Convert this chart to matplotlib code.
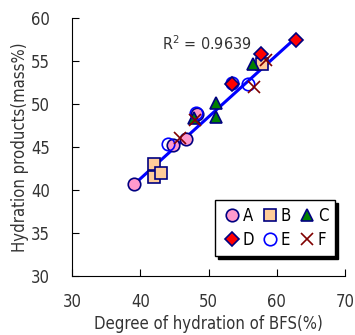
import matplotlib
matplotlib.use("Agg")
from matplotlib import pyplot as plt

# data (degree of hydration, hydration products)
a_x = [39.1, 44.8, 46.7, 48.3]
a_y = [40.7, 45.2, 45.9, 48.8]
b_x = [42.0, 42.0, 43.0, 57.8]
b_y = [43.0, 41.5, 42.0, 54.7]
c_x = [56.5, 51.1, 51.1, 47.9]
c_y = [54.7, 50.1, 48.5, 48.4]
d_x = [62.8, 57.7, 53.5]
d_y = [57.5, 55.8, 52.3]
e_x = [53.4, 55.8, 48.2, 44.1]
e_y = [52.5, 52.3, 48.9, 45.3]
f_x = [56.7, 58.4, 48.0, 45.8]
f_y = [52.0, 55.1, 48.1, 46.0]
fit_x = [39.3, 62.8]
fit_y = [40.8, 57.7]
r2_text = "R$^2$ = 0.9639"

plt.rcParams['font.family'] = ['DejaVu Sans']
plt.rcParams['font.stretch'] = 'condensed'
plt.rcParams['mathtext.fontset'] = 'custom'
plt.rcParams['mathtext.rm'] = 'DejaVu Sans:stretch=condensed'

fig = plt.figure(figsize=(3.55, 3.35), dpi=100)
ax = fig.add_axes([72/355, 59/335, 273/355, 258/335])

ax.plot(fit_x, fit_y, color='#0000ff', lw=2.2, zorder=1)

ms = 9
ha = ax.plot(a_x, a_y, 'o', ms=ms, mfc='#ff99cc', mec='#000080', mew=1.2, label='A', zorder=3)[0]
hb = ax.plot(b_x, b_y, 's', ms=ms, mfc='#ffcc99', mec='#000080', mew=1.2, label='B', zorder=2)[0]
hc = ax.plot(c_x, c_y, '^', ms=ms, mfc='#008000', mec='#000080', mew=1.2, label='C', zorder=3)[0]
hd = ax.plot(d_x, d_y, 'D', ms=7, mfc='#ff0000', mec='#000080', mew=1.2, label='D', zorder=4)[0]
he = ax.plot(e_x, e_y, 'o', ms=ms, mfc='none', mec='#0000ff', mew=1.2, label='E', zorder=3)[0]
hf = ax.plot(f_x, f_y, 'x', ms=ms, mec='#800000', mew=1.2, label='F', zorder=3)[0]

ax.text(0.33, 0.899, r2_text, transform=ax.transAxes, fontsize=11.5, color='#333333', va='center')

ax.set_xlim(30, 70)
ax.set_ylim(30, 60)
ax.set_xticks([30, 40, 50, 60, 70])
ax.set_yticks([30, 35, 40, 45, 50, 55, 60])
ax.tick_params(direction='in', labelsize=12, length=5, colors='black', labelcolor='#333333')
ax.tick_params(axis='x', pad=12)
ax.tick_params(axis='y', pad=16)
for s in ['top', 'right']:
    ax.spines[s].set_visible(False)
ax.set_xlabel('Degree of hydration of BFS(%)', fontsize=12, color='#333333', labelpad=3)
ax.set_ylabel('Hydration products(mass%)', fontsize=12, color='#333333', labelpad=1)

# legend: rows A B C / D E F, box with solid black shadow
leg = ax.legend([ha, hd, hb, he, hc, hf], ['A', 'D', 'B', 'E', 'C', 'F'],
                ncol=3, loc='lower right', bbox_to_anchor=(0.963, 0.078), borderaxespad=0,
                fontsize=12, frameon=True, fancybox=False,
                shadow={'color': 'black', 'alpha': 1},
                handletextpad=0.05, columnspacing=0.35, handlelength=1.2,
                borderpad=0.4, labelspacing=0.4, edgecolor='black')
leg.get_frame().set_linewidth(1.0)

fig.savefig('out.png', dpi=100)
